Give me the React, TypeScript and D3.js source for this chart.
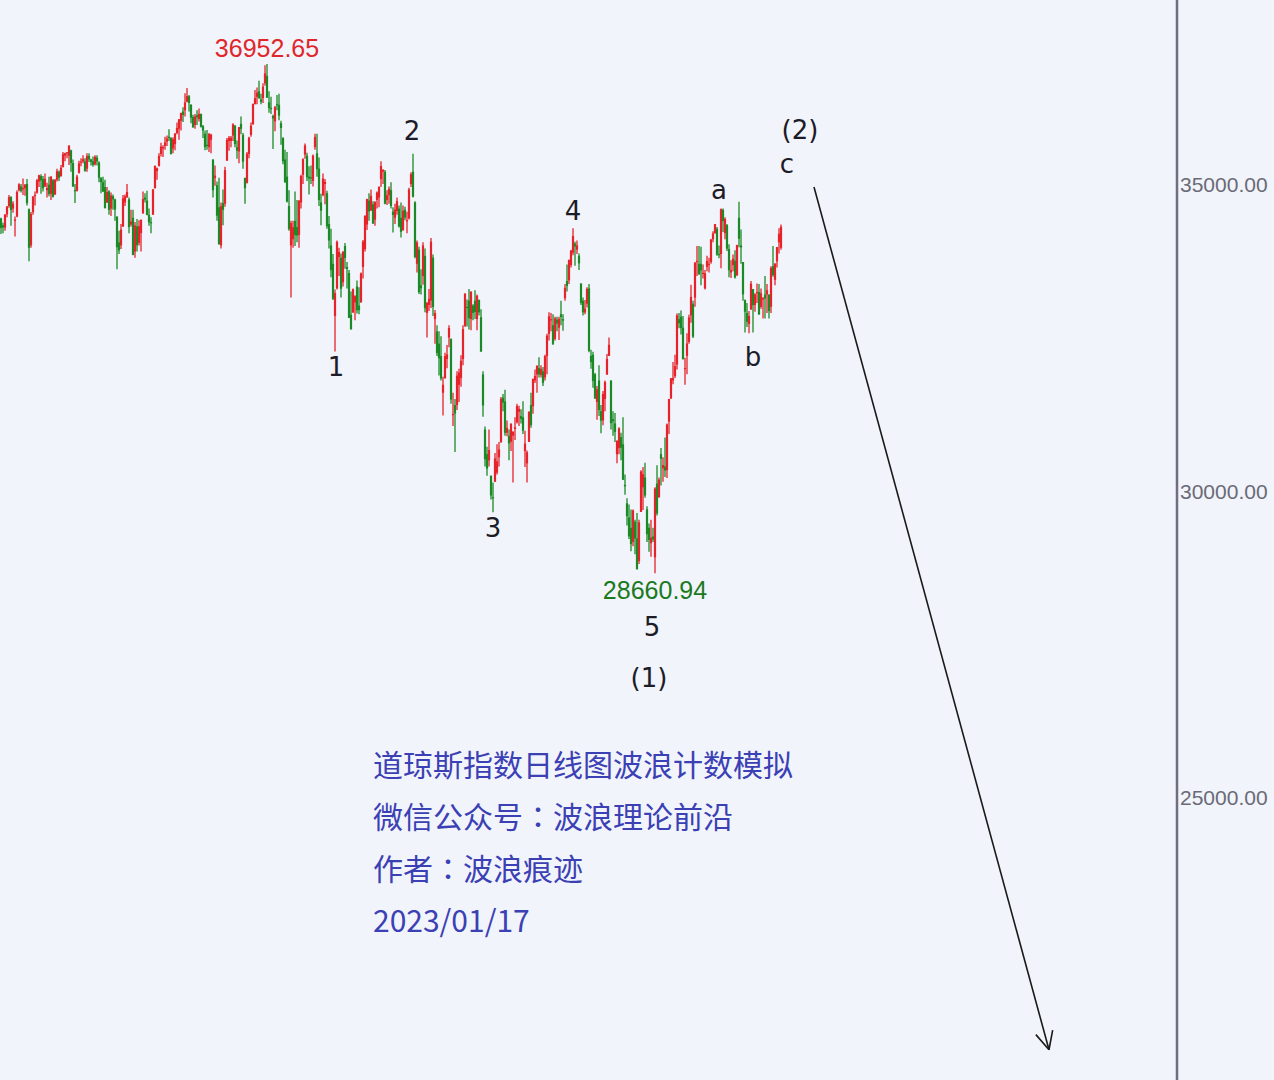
import React, { useEffect, useRef } from 'react';
import * as d3 from 'd3';

// Dow Jones daily candles, 2021-06-28 .. 2023-01-13  [open, high, low, close]
const candles: [number, number, number, number][] = [
  // 2021-06
  [34440, 34449, 34186, 34283], [34330, 34371, 34197, 34292], [34290, 34507, 34240, 34503],
  // 2021-07
  [34507, 34640, 34458, 34634], [34642, 34821, 34615, 34786], [34787, 34800, 34322, 34577],
  [34600, 34720, 34530, 34681], [34400, 34470, 34145, 34422], [34470, 34900, 34460, 34870],
  [34900, 35014, 34880, 34996], [34960, 35000, 34860, 34889], [34930, 35090, 34820, 34933],
  [34930, 35000, 34810, 34987], [35000, 35080, 34650, 34688], [34590, 34600, 33741, 33962],
  [34000, 34545, 33960, 34512], [34540, 34800, 34500, 34798], [34810, 34880, 34650, 34823],
  [34860, 35080, 34840, 35062], [35040, 35150, 34950, 35144], [35130, 35160, 34840, 35059],
  [35080, 35130, 34880, 34931], [34960, 35170, 34950, 35085], [34900, 35020, 34780, 34935],
  // 2021-08
  [34990, 35120, 34800, 34838], [34840, 35130, 34740, 35117], [35060, 35080, 34780, 34793],
  [34830, 35080, 34820, 35065], [35070, 35250, 35040, 35209], [35200, 35220, 35050, 35102],
  [35130, 35310, 35120, 35265], [35280, 35520, 35270, 35485], [35460, 35510, 35370, 35500],
  [35510, 35520, 35420, 35516], [35460, 35630, 35310, 35625], [35550, 35560, 35200, 35343],
  [35340, 35400, 34950, 34961], [34900, 35000, 34690, 34895], [34890, 35150, 34880, 35120],
  [35180, 35380, 35170, 35336], [35360, 35420, 35290, 35367], [35370, 35470, 35340, 35406],
  [35370, 35420, 35200, 35214], [35250, 35500, 35200, 35456], [35460, 35500, 35360, 35400],
  [35400, 35410, 35300, 35361],
  // 2021-09
  [35370, 35450, 35280, 35313], [35320, 35470, 35300, 35444], [35430, 35470, 35300, 35369],
  [35350, 35370, 35030, 35100], [35100, 35110, 34850, 35031], [35030, 35120, 34870, 34879],
  [34950, 35070, 34600, 34608], [34700, 34950, 34690, 34870], [34880, 34900, 34500, 34578],
  [34600, 34860, 34480, 34814], [34800, 34830, 34580, 34751], [34750, 34760, 34400, 34585],
  [34470, 34470, 33610, 33970], [34050, 34240, 33860, 33919], [34000, 34350, 33940, 34258],
  [34310, 34820, 34300, 34765], [34700, 34830, 34640, 34798], [34780, 35000, 34780, 34870],
  [34750, 34780, 34200, 34300], [34340, 34580, 34310, 34390], [34450, 34580, 33840, 33844],
  // 2021-10
  [33900, 34380, 33800, 34326], [34310, 34430, 33900, 34002], [34040, 34410, 34000, 34314],
  [34200, 34420, 33900, 34417], [34520, 34880, 34520, 34755], [34780, 34850, 34700, 34746],
  [34730, 34890, 34490, 34496], [34500, 34600, 34320, 34378], [34380, 34460, 34200, 34377],
  [34500, 34920, 34500, 34912], [34930, 35300, 34930, 35295], [35210, 35270, 35070, 35258],
  [35290, 35500, 35290, 35457], [35490, 35670, 35450, 35609], [35580, 35630, 35440, 35603],
  [35620, 35770, 35560, 35677], [35690, 35790, 35620, 35741], [35770, 35890, 35700, 35757],
  [35750, 35760, 35480, 35490], [35580, 35760, 35500, 35730], [35650, 35830, 35550, 35820],
  // 2021-11
  [35830, 36000, 35810, 35913], [35900, 36060, 35720, 36053], [36030, 36160, 35870, 36158],
  [36180, 36250, 36010, 36124], [36200, 36480, 36100, 36328], [36340, 36565, 36330, 36432],
  [36430, 36450, 36180, 36320], [36290, 36300, 35990, 36080], [36090, 36130, 35920, 35921],
  [35960, 36140, 35900, 36100], [36120, 36200, 35960, 36087], [36060, 36230, 36020, 36142],
  [36140, 36150, 35920, 35931], [35940, 35960, 35750, 35871], [35820, 35870, 35550, 35601],
  [35640, 35880, 35560, 35619], [35600, 35830, 35520, 35813], [35720, 35820, 35500, 35804],
  [35400, 35400, 34780, 34899], [35100, 35300, 34970, 35136], [34980, 35040, 34400, 34484],
  // 2021-12
  [34620, 35100, 34010, 34022], [34000, 34700, 33950, 34640], [34690, 34910, 34330, 34580],
  [34680, 35280, 34630, 35227], [35380, 35750, 35380, 35720], [35700, 35780, 35540, 35754],
  [35700, 35780, 35600, 35754], [35790, 35990, 35700, 35971], [35950, 35960, 35600, 35650],
  [35600, 35710, 35410, 35544], [35530, 35930, 35340, 35927], [35980, 36100, 35810, 35898],
  [35800, 35830, 35250, 35365], [35100, 35100, 34680, 34932], [35020, 35520, 35010, 35493],
  [35490, 35770, 35420, 35754], [35800, 36000, 35770, 35951], [35970, 36310, 35970, 36302],
  [36300, 36530, 36300, 36398], [36420, 36570, 36300, 36488], [36510, 36680, 36390, 36398],
  [36380, 36470, 36300, 36338],
  // 2022-01
  [36400, 36640, 36320, 36585], [36640, 36934, 36600, 36800], [36760, 36952.65, 36400, 36407],
  [36330, 36510, 36160, 36236], [36240, 36420, 36140, 36231], [36110, 36130, 35570, 36068],
  [36020, 36270, 35860, 36252], [36300, 36450, 36200, 36290], [36290, 36470, 36040, 36113],
  [35990, 36030, 35640, 35912], [35750, 35760, 35320, 35369], [35400, 35560, 35020, 35029],
  [35120, 35520, 34700, 34715], [34640, 34900, 34240, 34265], [34000, 34400, 33150, 34365],
  [34100, 34400, 33960, 34297], [34400, 34880, 33990, 34168], [34300, 34740, 34050, 34160],
  [34170, 34740, 33960, 34725], [34700, 35150, 34600, 35132],
  // 2022-02
  [35150, 35420, 35000, 35405], [35480, 35660, 35410, 35629], [35460, 35510, 35050, 35111],
  [35120, 35290, 34830, 35089], [35110, 35300, 35000, 35091], [35050, 35480, 34960, 35463],
  [35600, 35820, 35560, 35768], [35500, 35820, 35120, 35241], [35250, 35430, 34640, 34738],
  [34700, 34840, 34330, 34566], [34820, 35170, 34800, 35089], [35000, 35080, 34670, 35035],
  [34850, 34890, 34270, 34312], [34350, 34480, 33950, 34079], [34000, 34270, 33480, 33597],
  [33700, 33860, 33110, 33131], [32850, 33280, 32272, 33224], [33300, 34080, 33280, 34059],
  [33810, 33960, 33500, 33893],
  // 2022-03
  [33800, 33870, 33150, 33294], [33400, 33910, 33330, 33891], [33990, 34040, 33620, 33795],
  [33650, 33730, 33300, 33615], [33550, 33600, 32820, 32818], [32870, 33250, 32630, 32633],
  [32910, 33300, 32900, 33286], [33070, 33190, 32780, 33174], [33330, 33430, 32890, 32944],
  [33020, 33320, 32880, 32945], [33080, 33560, 33060, 33544], [33650, 34090, 33460, 34063],
  [33940, 34490, 33900, 34481], [34340, 34760, 34250, 34754], [34730, 34850, 34400, 34553],
  [34570, 34910, 34560, 34808], [34670, 34720, 34350, 34358], [34420, 34720, 34320, 34708],
  [34740, 34880, 34600, 34861], [34780, 34960, 34620, 34955], [35080, 35372, 34950, 35294],
  [35200, 35240, 35000, 35229], [35200, 35230, 34670, 34678],
  // 2022-04
  [34740, 34900, 34660, 34818], [34820, 34960, 34680, 34922], [34900, 35030, 34600, 34642],
  [34550, 34620, 34210, 34497], [34450, 34680, 34350, 34584], [34560, 34780, 34500, 34721],
  [34600, 34650, 34290, 34309], [34450, 34700, 34130, 34221], [34250, 34650, 34240, 34565],
  [34580, 34630, 34410, 34452], [34390, 34550, 34200, 34412], [34440, 34940, 34420, 34912],
  [35000, 35190, 34950, 35161], [35200, 35492, 34780, 34793], [34700, 34720, 33790, 33811],
  [33700, 34080, 33560, 34050], [33930, 33980, 33210, 33240], [33350, 33610, 33200, 33302],
  [33500, 34050, 33360, 34000], [33830, 33950, 32910, 32977],
  // 2022-05
  [32900, 33080, 32500, 33062], [33030, 33290, 32930, 33129], [33100, 34120, 32980, 34061],
  [33800, 33850, 32850, 32998], [32800, 32950, 32400, 32900], [32600, 32700, 32200, 32246],
  [32400, 32600, 31880, 32161], [32200, 32520, 31800, 31834], [31600, 31860, 31230, 31730],
  [31840, 32250, 31830, 32197], [32150, 32380, 32000, 32224], [32500, 32700, 32340, 32655],
  [32480, 32480, 31420, 31490], [31250, 31600, 31060, 31254], [31400, 31500, 30636, 31262],
  [31400, 31950, 31320, 31880], [31730, 31990, 31450, 31929], [31840, 32210, 31700, 32121],
  [32150, 32700, 32050, 32637], [32690, 33220, 32670, 33213], [33000, 33120, 32680, 32990],
  // 2022-06
  [33100, 33290, 32630, 32814], [32800, 33250, 32620, 33248], [33020, 33040, 32780, 32900],
  [33100, 33270, 32800, 32916], [32800, 33200, 32620, 33180], [33110, 33120, 32860, 32910],
  [32830, 32960, 32270, 32272], [31900, 31950, 31210, 31393], [31000, 31050, 30400, 30517],
  [30600, 30720, 30250, 30365], [30500, 31000, 30400, 30668], [30250, 30250, 29860, 29927],
  [29900, 30140, 29653, 29888], [30150, 30620, 30150, 30530], [30300, 30760, 30270, 30484],
  [30550, 30800, 30400, 30677], [30800, 31530, 30780, 31501], [31520, 31580, 31300, 31439],
  [31460, 31650, 30900, 30947], [30950, 31150, 30890, 31029], [30900, 31000, 30500, 30775],
  // 2022-07
  [30800, 31100, 30650, 31097], [30900, 30970, 30140, 30968], [31010, 31200, 30830, 31038],
  [31120, 31420, 31100, 31384], [31290, 31390, 31060, 31338], [31220, 31330, 31100, 31174],
  [31200, 31460, 30930, 30982], [30650, 30980, 30390, 30773], [30450, 30660, 30140, 30630],
  [30800, 31300, 30800, 31289], [31400, 31600, 31030, 31073], [31380, 31830, 31260, 31827],
  [31800, 31980, 31760, 31875], [31900, 32050, 31600, 32037], [32000, 32180, 31850, 31899],
  [31890, 32050, 31850, 31990], [31950, 32020, 31710, 31762], [31850, 32220, 31800, 32198],
  [32200, 32560, 31900, 32530], [32560, 32910, 32450, 32845],
  // 2022-08
  [32780, 32900, 32600, 32798], [32700, 32880, 32380, 32397], [32480, 32840, 32450, 32813],
  [32790, 32840, 32600, 32727], [32660, 32840, 32460, 32803], [32880, 33100, 32700, 32833],
  [32800, 32880, 32610, 32775], [33140, 33370, 33100, 33310], [33420, 33690, 33250, 33337],
  [33430, 33770, 33370, 33762], [33680, 33930, 33640, 33913], [33880, 34281, 33840, 34152],
  [34030, 34060, 33670, 33981], [33930, 34080, 33860, 33999], [33830, 33870, 33600, 33707],
  [33380, 33380, 33030, 33064], [33100, 33150, 32860, 32910], [32910, 33110, 32880, 32970],
  [33050, 33320, 32990, 33292], [33300, 33370, 32260, 32283], [32200, 32300, 31990, 32099],
  [32220, 32270, 31680, 31791], [31900, 31920, 31500, 31510],
  // 2022-09
  [31450, 31710, 31160, 31656], [31800, 32050, 31220, 31318], [31300, 31400, 30940, 31146],
  [31150, 31630, 31070, 31581], [31500, 31800, 31300, 31775], [31900, 32230, 31890, 32152],
  [32200, 32500, 32200, 32381], [31800, 31800, 31000, 31105], [31170, 31300, 30900, 31135],
  [31100, 31270, 30800, 30962], [30600, 30820, 30450, 30822], [30700, 31040, 30600, 31020],
  [30880, 30950, 30500, 30706], [30760, 31200, 30180, 30184], [30100, 30270, 29940, 30077],
  [29800, 29880, 29440, 29590], [29570, 29780, 29220, 29261], [29400, 29700, 29020, 29135],
  [29170, 29700, 29100, 29684], [29500, 29530, 28970, 29226], [29230, 29640, 28720, 28726],
  // 2022-10
  [28860, 29530, 28810, 29490], [29660, 30340, 29660, 30317], [30060, 30390, 29690, 30274],
  [30220, 30460, 29890, 29927], [29700, 29750, 29170, 29297], [29400, 29470, 29010, 29203],
  [29150, 29530, 28930, 29240], [29260, 29400, 29170, 29211], [28920, 30060, 28660.94, 30039],
  [30120, 30420, 29600, 29635], [29900, 30220, 29890, 30186], [30600, 30700, 30090, 30524],
  [30370, 30550, 30150, 30424], [30400, 30870, 30230, 30334], [30340, 31100, 30210, 31083],
  [31130, 31500, 30930, 31500], [31510, 31840, 31500, 31837], [31800, 32100, 31740, 31839],
  [31870, 32220, 31840, 32034], [32060, 32890, 31980, 32861], [32800, 32900, 32650, 32733],
  // 2022-11
  [32840, 32940, 32550, 32653], [32660, 32850, 32140, 32148], [32000, 32170, 31730, 32002],
  [32200, 32570, 31900, 32403], [32430, 32870, 32400, 32827], [32860, 33360, 32740, 33161],
  [33050, 33100, 32490, 32514], [33150, 33730, 33000, 33716], [33730, 33990, 33500, 33748],
  [33700, 33990, 33520, 33537], [33700, 33980, 33350, 33593], [33550, 33690, 33460, 33554],
  [33300, 33600, 33280, 33547], [33650, 33830, 33580, 33746], [33700, 33800, 33560, 33700],
  [33730, 34100, 33700, 34098], [34100, 34230, 34050, 34195], [34200, 34350, 34190, 34347],
  [34270, 34300, 33830, 33850], [33860, 34000, 33790, 33853], [33860, 34600, 33630, 34590],
  // 2022-12
  [34580, 34600, 34220, 34395], [34200, 34460, 34100, 34430], [34330, 34350, 33910, 33947],
  [33940, 34020, 33480, 33597], [33560, 33760, 33470, 33597], [33680, 33850, 33580, 33781],
  [33750, 33920, 33460, 33477], [33510, 34010, 33510, 34005], [34450, 34712, 33970, 34108],
  [34000, 34260, 33700, 33966], [33730, 33730, 33100, 33203], [33110, 33120, 32580, 32920],
  [32900, 33060, 32670, 32757], [32720, 32930, 32570, 32850], [32960, 33420, 32950, 33376],
  [33290, 33290, 32580, 33027], [33030, 33220, 32920, 33203], [33230, 33380, 33060, 33241],
  [33240, 33370, 32870, 32876], [33000, 33300, 32970, 33221], [33120, 33150, 32810, 33147],
  // 2023-01
  [33200, 33500, 32810, 33136], [33200, 33370, 32900, 33270], [33200, 33200, 32810, 32930],
  [33000, 33660, 32900, 33631], [33660, 33990, 33490, 33517], [33440, 33710, 33350, 33704],
  [33740, 33970, 33640, 33973], [34050, 34280, 33870, 34190], [33960, 34340, 33930, 34303],
];

const yTicks = [35000, 30000, 25000];

// wave count labels: [text, candle index, price level]
const waveLabels: [string, number, number][] = [
  ['1', 167.5, 32020], ['2', 205.5, 35860], ['3', 246, 29400], ['4', 286, 34560],
  ['5', 325.5, 27785], ['(1)', 324, 26955], ['a', 359, 34900], ['b', 376, 32180],
  ['c', 393, 35330], ['(2)', 399.5, 35880],
];

// projected decline arrow: [candle index, price]
const arrowFrom: [number, number] = [406.5, 34950];
const arrowTo: [number, number] = [524, 20900];

const notes = ['道琼斯指数日线图波浪计数模拟', '微信公众号：波浪理论前沿', '作者：波浪痕迹', '2023/01/17'];

const W = 1274;
const H = 1080;
const UP = '#e6232a';
const DOWN = '#1b8a26';

const App = () => {
  const svgRef = useRef<SVGSVGElement>(null);

  useEffect(() => {
    if (!svgRef.current) return;
    const svg = d3.select(svgRef.current);
    svg.selectAll('*').remove();

    const x = d3.scaleLinear().domain([0, 390]).range([1, 781]);
    const y = d3.scaleLinear().domain([20407, 37997]).range([H, 0]);
    const axisX = 1177;

    svg.append('rect').attr('width', W).attr('height', H).attr('fill', '#f1f4fa');

    // candles
    const g = svg.append('g');
    const col = (d: number[]) => (d[3] >= d[0] ? UP : DOWN);
    g.selectAll('line.wick')
      .data(candles)
      .enter()
      .append('line')
      .attr('x1', (_, i) => x(i))
      .attr('x2', (_, i) => x(i))
      .attr('y1', d => y(d[1]))
      .attr('y2', d => y(d[2]))
      .attr('stroke', col)
      .attr('stroke-width', 1.3);
    g.selectAll('rect.body')
      .data(candles)
      .enter()
      .append('rect')
      .attr('x', (_, i) => x(i) - 1.1)
      .attr('width', 2.2)
      .attr('y', d => y(Math.max(d[0], d[3])))
      .attr('height', d => Math.max(1.2, Math.abs(y(d[0]) - y(d[3]))))
      .attr('fill', col);

    // right price axis
    svg.append('line')
      .attr('x1', axisX).attr('x2', axisX).attr('y1', 0).attr('y2', H)
      .attr('stroke', '#6e6d82').attr('stroke-width', 2.5);
    svg.selectAll('text.tick')
      .data(yTicks)
      .enter()
      .append('text')
      .attr('x', axisX + 3)
      .attr('y', d => y(d))
      .attr('dominant-baseline', 'central')
      .attr('font-family', '"Liberation Sans", Arial, sans-serif')
      .attr('font-size', 21)
      .attr('fill', '#6a6a78')
      .text(d => d3.format('.2f')(d));

    // extreme price labels
    const hiIdx = d3.maxIndex(candles, d => d[1]);
    const loIdx = d3.minIndex(candles, d => d[2]);
    svg.append('text')
      .attr('x', x(hiIdx)).attr('y', y(candles[hiIdx][1]) - 16)
      .attr('text-anchor', 'middle').attr('dominant-baseline', 'central')
      .attr('font-family', '"Liberation Sans", Arial, sans-serif').attr('font-size', 25)
      .attr('fill', '#e0262c')
      .text(d3.format('.2f')(candles[hiIdx][1]));
    svg.append('text')
      .attr('x', x(loIdx)).attr('y', y(candles[loIdx][2]) + 17)
      .attr('text-anchor', 'middle').attr('dominant-baseline', 'central')
      .attr('font-family', '"Liberation Sans", Arial, sans-serif').attr('font-size', 25)
      .attr('fill', '#1a7a22')
      .text(d3.format('.2f')(candles[loIdx][2]));

    // wave labels
    svg.selectAll('text.wave')
      .data(waveLabels)
      .enter()
      .append('text')
      .attr('x', d => x(d[1]))
      .attr('y', d => y(d[2]))
      .attr('text-anchor', 'middle')
      .attr('dominant-baseline', 'central')
      .attr('font-family', '"DejaVu Sans", Verdana, sans-serif')
      .attr('font-size', 26)
      .attr('fill', '#1c1c28')
      .text(d => d[0]);

    // arrow
    const ax1 = x(arrowFrom[0]), ay1 = y(arrowFrom[1]);
    const ax2 = x(arrowTo[0]), ay2 = y(arrowTo[1]);
    svg.append('line')
      .attr('x1', ax1).attr('y1', ay1).attr('x2', ax2).attr('y2', ay2)
      .attr('stroke', '#1a1a1a').attr('stroke-width', 1.6);
    const ang = Math.atan2(ay2 - ay1, ax2 - ax1);
    const head = d3.path();
    [-0.45, 0.45].forEach(a => {
      head.moveTo(ax2, ay2);
      head.lineTo(ax2 - 20 * Math.cos(ang + a), ay2 - 20 * Math.sin(ang + a));
    });
    svg.append('path').attr('d', head.toString())
      .attr('stroke', '#1a1a1a').attr('stroke-width', 1.6).attr('fill', 'none');

    // notes (full-width colon drawn centred, as in the original)
    const note = svg.selectAll('text.note')
      .data(notes)
      .enter()
      .append('text')
      .attr('x', 373)
      .attr('y', (_, i) => 763 + i * 52)
      .attr('dominant-baseline', 'central')
      .attr('font-family', '"Noto Sans CJK SC", sans-serif')
      .attr('font-size', 30)
      .attr('fill', '#3b40b4');
    note.each(function (d) {
      const t = d3.select(this);
      const parts = d.split('：');
      parts.forEach((p, k) => {
        if (k > 0) t.append('tspan').attr('font-family', '"Noto Sans CJK TC", sans-serif').text('：');
        t.append('tspan').text(p);
      });
    });
  }, []);

  return (
    <div style={{ position: 'absolute', left: 0, top: 0 }}>
      <svg ref={svgRef} width={W} height={H} viewBox={`0 0 ${W} ${H}`} style={{ display: 'block' }} />
    </div>
  );
};

export default App;
